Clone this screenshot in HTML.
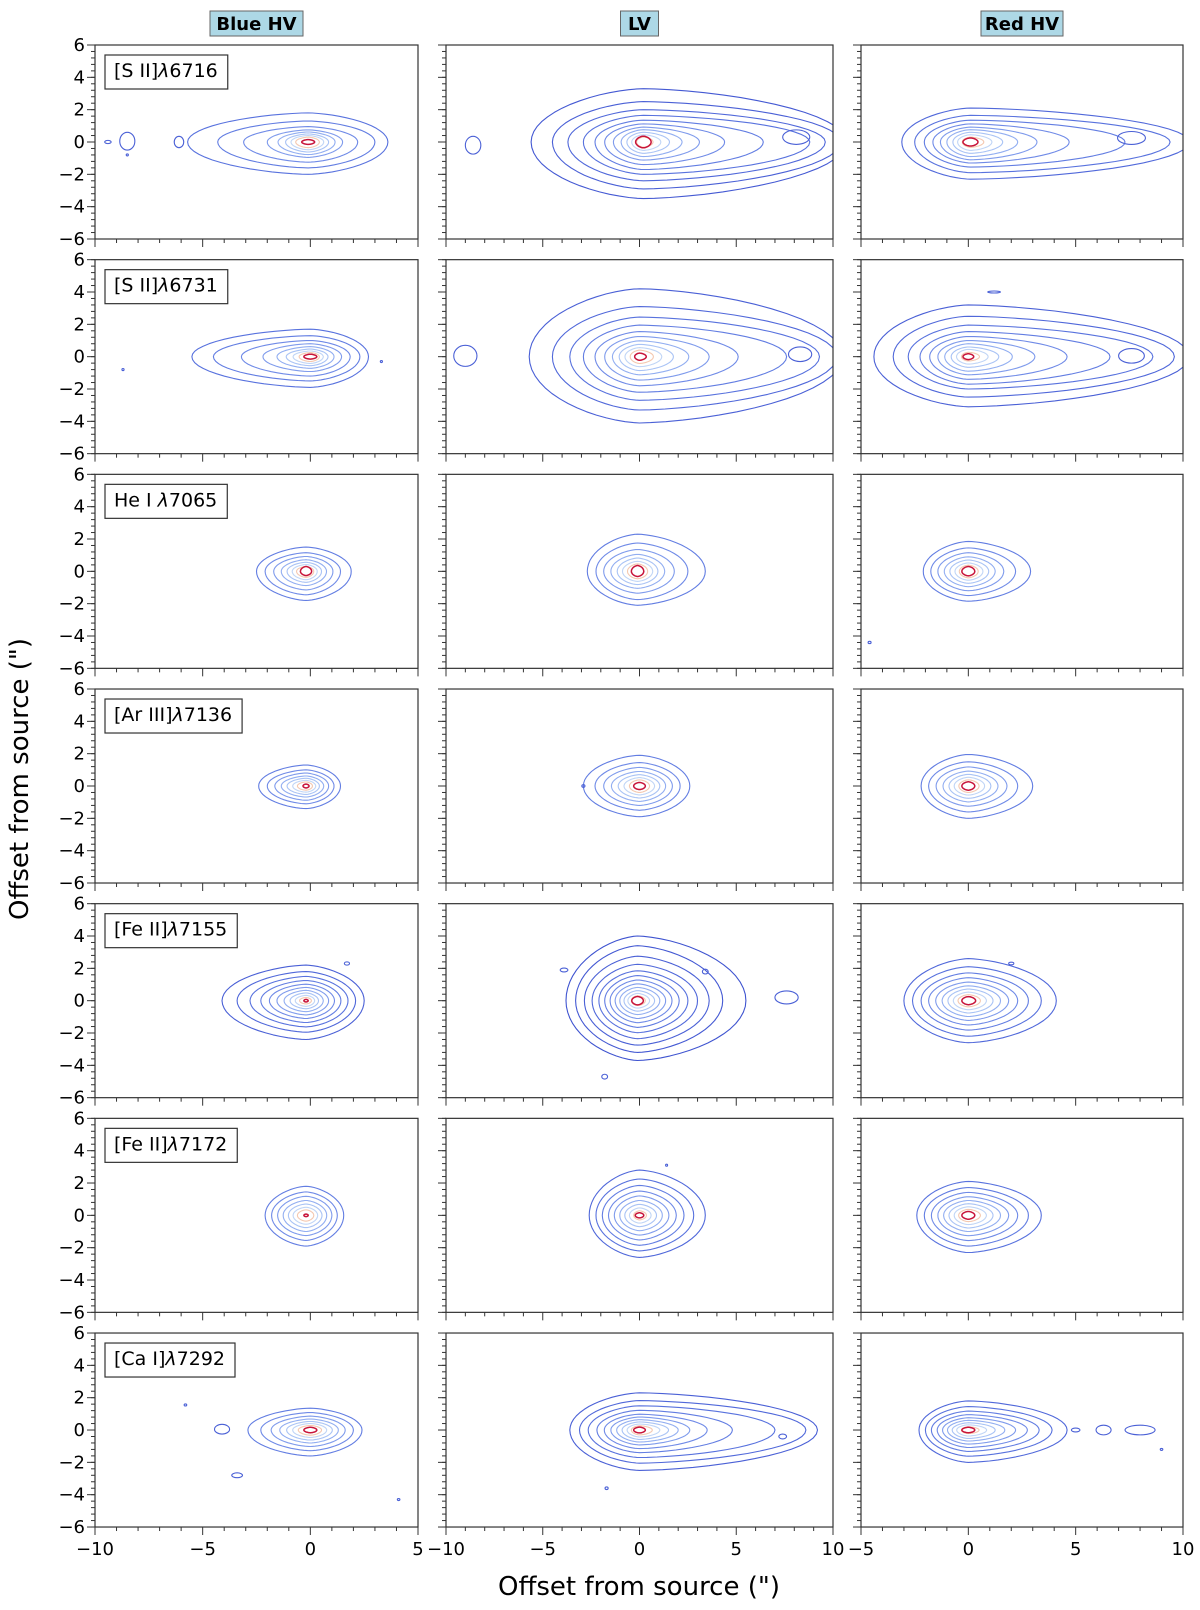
<!DOCTYPE html>
<html><head><meta charset="utf-8"><style>
html,body{margin:0;padding:0;background:#fff;}
#wrap{position:relative;width:1200px;height:1610px;overflow:hidden;font-family:"DejaVu Sans","Liberation Sans",sans-serif;}
</style></head><body>
<div id="wrap">
<svg id="fig" width="1200" height="1610" viewBox="0 0 1200 1610" xmlns="http://www.w3.org/2000/svg"></svg>
</div>
<script>
// ---- data ----
const columnTitles = ["Blue HV", "LV", "Red HV"];
const rowLabels = ["[S II]", "[S II]", "He I ", "[Ar III]", "[Fe II]", "[Fe II]", "[Ca I]"];
const rowWaves = ["6716", "6731", "7065", "7136", "7155", "7172", "7292"];
const xRanges = [[-10, 5], [-10, 10], [-5, 10]];
const xTicksByCol = [[-10, -5, 0, 5], [-10, -5, 0, 5, 10], [-5, 0, 5, 10]];
const yTicks = [-6, -4, -2, 0, 2, 4, 6];
const yRange = [-6, 6];
// centres [x,y] per panel (row-major)
const centers = [
 [-0.1,0],[0.2,0],[0.1,0],
 [0,0],[0,0],[0,0],
 [-0.2,0],[-0.1,0],[0,0],
 [-0.2,0],[0,0],[0,0],
 [-0.2,0],[-0.1,0],[0,0],
 [-0.2,0],[0,0],[0,0],
 [0,0],[0,0],[0,0]
];
// contour extents outer->inner: [left, right, up, down] relative to centre
const contourLevels = [
 [[-5.6,3.7,1.8,-2.0],[-4.2,3.1,1.3,-1.6],[-3.0,2.3,0.95,-1.25],[-1.9,1.6,0.75,-0.95],[-1.4,1.25,0.62,-0.78],[-1.05,0.95,0.5,-0.62],[-0.8,0.72,0.4,-0.48],[-0.58,0.52,0.3,-0.35],[-0.3,0.3,0.15,-0.15]],
 [[-5.8,10.5,3.3,-3.5],[-4.7,10.2,2.5,-2.9],[-3.9,9.4,2.0,-2.4],[-3.1,8.6,1.65,-2.0],[-2.5,6.2,1.35,-1.7],[-2.0,4.2,1.12,-1.4],[-1.55,2.9,0.92,-1.12],[-1.15,2.0,0.76,-0.9],[-0.85,1.35,0.6,-0.7],[-0.6,0.9,0.45,-0.52],[-0.35,0.5,0.3,-0.32],[-0.4,0.4,0.36,-0.36]],
 [[-3.2,10.2,2.1,-2.3],[-2.6,9.3,1.65,-1.9],[-2.15,7.2,1.35,-1.55],[-1.75,4.6,1.12,-1.3],[-1.4,3.1,0.92,-1.1],[-1.1,2.2,0.76,-0.9],[-0.82,1.5,0.6,-0.7],[-0.6,1.0,0.45,-0.52],[-0.38,0.62,0.3,-0.33],[-0.35,0.35,0.25,-0.25]],
 [[-5.5,2.7,1.7,-1.9],[-4.5,2.3,1.3,-1.5],[-3.2,1.85,1.0,-1.2],[-2.2,1.45,0.8,-0.92],[-1.55,1.1,0.62,-0.72],[-1.12,0.82,0.47,-0.56],[-0.8,0.6,0.35,-0.42],[-0.52,0.42,0.25,-0.3],[-0.3,0.3,0.15,-0.15]],
 [[-5.7,10.5,4.2,-4.1],[-4.5,10.2,3.1,-3.3],[-3.6,9.3,2.45,-2.7],[-2.9,7.6,1.95,-2.2],[-2.3,5.1,1.55,-1.8],[-1.8,3.6,1.25,-1.45],[-1.4,2.55,0.98,-1.12],[-1.05,1.75,0.76,-0.86],[-0.75,1.15,0.56,-0.62],[-0.48,0.72,0.4,-0.42],[-0.25,0.35,0.22,-0.22]],
 [[-4.4,10.3,3.2,-3.1],[-3.5,9.6,2.5,-2.5],[-2.8,8.6,1.95,-2.0],[-2.25,6.6,1.55,-1.7],[-1.8,4.6,1.25,-1.4],[-1.42,3.1,1.0,-1.12],[-1.1,2.05,0.8,-0.9],[-0.8,1.42,0.6,-0.66],[-0.55,0.92,0.45,-0.46],[-0.32,0.52,0.27,-0.27],[-0.25,0.25,0.18,-0.18]],
 [[-2.3,2.1,1.5,-1.8],[-1.9,1.6,1.15,-1.45],[-1.5,1.25,0.92,-1.15],[-1.15,0.95,0.72,-0.88],[-0.88,0.72,0.56,-0.68],[-0.64,0.52,0.42,-0.52],[-0.44,0.36,0.3,-0.37],[-0.26,0.26,0.3,-0.26]],
 [[-2.6,3.5,2.3,-2.1],[-2.15,2.6,1.75,-1.75],[-1.75,1.9,1.35,-1.35],[-1.38,1.4,1.05,-1.05],[-1.05,1.05,0.82,-0.82],[-0.78,0.78,0.62,-0.62],[-0.52,0.52,0.46,-0.46],[-0.32,0.32,0.36,-0.32]],
 [[-2.1,2.9,1.85,-1.85],[-1.75,2.2,1.45,-1.5],[-1.42,1.65,1.15,-1.2],[-1.12,1.25,0.9,-0.95],[-0.86,0.95,0.7,-0.74],[-0.62,0.68,0.52,-0.55],[-0.42,0.46,0.38,-0.4],[-0.3,0.3,0.3,-0.28]],
 [[-2.2,1.6,1.3,-1.4],[-1.8,1.3,1.0,-1.1],[-1.45,1.05,0.8,-0.88],[-1.15,0.82,0.62,-0.68],[-0.88,0.62,0.48,-0.52],[-0.62,0.45,0.35,-0.38],[-0.4,0.3,0.25,-0.26],[-0.14,0.14,0.12,-0.12]],
 [[-2.9,2.6,1.9,-1.9],[-2.3,2.1,1.45,-1.5],[-1.85,1.7,1.15,-1.2],[-1.45,1.35,0.9,-0.95],[-1.1,1.05,0.7,-0.74],[-0.8,0.78,0.52,-0.55],[-0.52,0.52,0.38,-0.4],[-0.3,0.3,0.22,-0.22]],
 [[-2.2,3.0,1.95,-2.0],[-1.85,2.3,1.5,-1.6],[-1.5,1.8,1.18,-1.25],[-1.18,1.38,0.92,-0.98],[-0.9,1.05,0.72,-0.76],[-0.66,0.76,0.54,-0.56],[-0.44,0.5,0.38,-0.4],[-0.3,0.3,0.26,-0.26]],
 [[-3.9,2.7,2.2,-2.4],[-3.2,2.3,1.8,-1.95],[-2.6,1.95,1.5,-1.62],[-2.1,1.62,1.25,-1.35],[-1.7,1.32,1.02,-1.1],[-1.35,1.05,0.82,-0.88],[-1.02,0.8,0.64,-0.68],[-0.74,0.58,0.48,-0.5],[-0.5,0.4,0.33,-0.35],[-0.3,0.25,0.2,-0.2],[-0.1,0.1,0.08,-0.08]],
 [[-3.7,5.6,4.0,-3.7],[-3.2,4.4,3.4,-3.2],[-2.75,3.7,2.75,-2.75],[-2.35,3.1,2.25,-2.35],[-2.0,2.6,1.85,-1.98],[-1.7,2.15,1.55,-1.65],[-1.42,1.78,1.28,-1.36],[-1.16,1.45,1.04,-1.1],[-0.92,1.15,0.82,-0.86],[-0.7,0.88,0.62,-0.65],[-0.5,0.62,0.45,-0.46],[-0.32,0.4,0.3,-0.3],[-0.3,0.3,0.26,-0.26]],
 [[-3.0,4.1,2.6,-2.6],[-2.6,3.4,2.1,-2.2],[-2.2,2.8,1.72,-1.82],[-1.85,2.3,1.42,-1.5],[-1.52,1.88,1.15,-1.22],[-1.22,1.5,0.92,-0.98],[-0.95,1.15,0.72,-0.76],[-0.7,0.84,0.53,-0.56],[-0.48,0.56,0.37,-0.38],[-0.3,0.34,0.25,-0.25]],
 [[-1.9,1.75,1.8,-1.9],[-1.6,1.45,1.45,-1.55],[-1.32,1.2,1.18,-1.25],[-1.06,0.96,0.92,-1.0],[-0.82,0.74,0.7,-0.76],[-0.6,0.54,0.5,-0.55],[-0.4,0.36,0.34,-0.36],[-0.1,0.1,0.08,-0.08]],
 [[-2.6,3.4,2.8,-2.6],[-2.25,2.8,2.25,-2.2],[-1.92,2.3,1.85,-1.85],[-1.6,1.9,1.5,-1.52],[-1.3,1.52,1.2,-1.22],[-1.02,1.18,0.92,-0.95],[-0.76,0.88,0.68,-0.7],[-0.52,0.6,0.46,-0.48],[-0.3,0.36,0.28,-0.28],[-0.22,0.22,0.16,-0.16]],
 [[-2.4,3.4,2.1,-2.3],[-2.05,2.8,1.72,-1.9],[-1.72,2.3,1.42,-1.56],[-1.42,1.88,1.15,-1.26],[-1.15,1.5,0.92,-1.0],[-0.9,1.15,0.72,-0.78],[-0.66,0.84,0.53,-0.57],[-0.45,0.56,0.37,-0.39],[-0.3,0.3,0.24,-0.24]],
 [[-2.9,2.4,1.35,-1.6],[-2.3,2.0,1.08,-1.28],[-1.82,1.62,0.86,-1.02],[-1.42,1.3,0.68,-0.8],[-1.1,1.02,0.53,-0.62],[-0.82,0.76,0.4,-0.46],[-0.56,0.52,0.28,-0.32],[-0.3,0.3,0.17,-0.17]],
 [[-3.6,9.2,2.3,-2.5],[-3.1,8.6,1.82,-2.05],[-2.65,7.0,1.5,-1.7],[-2.2,4.8,1.22,-1.4],[-1.82,3.5,0.98,-1.15],[-1.48,2.6,0.8,-0.92],[-1.18,2.0,0.64,-0.74],[-0.9,1.5,0.5,-0.58],[-0.64,1.05,0.37,-0.43],[-0.42,0.66,0.26,-0.3],[-0.3,0.3,0.18,-0.18]],
 [[-2.3,4.6,1.8,-2.0],[-2.0,3.9,1.45,-1.62],[-1.72,3.3,1.17,-1.32],[-1.45,2.75,0.95,-1.08],[-1.2,2.2,0.76,-0.87],[-0.97,1.7,0.6,-0.68],[-0.75,1.25,0.45,-0.52],[-0.54,0.85,0.32,-0.37],[-0.32,0.5,0.2,-0.22],[-0.3,0.3,0.17,-0.17]]
];
// isolated small contour islands per panel: [x, y, rx, ry]
const islands = [
 [[-9.4,0,0.15,0.1],[-8.5,0.05,0.35,0.55],[-6.1,0,0.22,0.35],[-8.5,-0.8,0.05,0.05]],
 [[-8.6,-0.2,0.4,0.55],[8.1,0.3,0.7,0.45]],
 [[7.6,0.25,0.65,0.4]],
 [[-8.7,-0.8,0.05,0.05],[3.3,-0.3,0.05,0.05]],
 [[-9.0,0.05,0.6,0.65],[8.3,0.15,0.6,0.45]],
 [[7.6,0.05,0.6,0.45],[1.2,4.0,0.3,0.06]],
 [], [], [[-4.6,-4.4,0.07,0.07]],
 [], [[-2.9,0,0.08,0.08]], [],
 [[1.7,2.3,0.12,0.1]],
 [[7.6,0.2,0.6,0.4],[-3.9,1.9,0.2,0.12],[-1.8,-4.7,0.15,0.15],[3.4,1.8,0.15,0.15]],
 [[2.0,2.3,0.12,0.08]],
 [], [[1.4,3.1,0.05,0.05]], [],
 [[-4.1,0.05,0.35,0.3],[-3.4,-2.8,0.25,0.15],[-5.8,1.55,0.06,0.06],[4.1,-4.3,0.06,0.06]],
 [[7.4,-0.4,0.2,0.15],[-1.7,-3.6,0.08,0.08]],
 [[5.0,0.0,0.2,0.12],[6.3,0.0,0.35,0.3],[8.0,0.0,0.7,0.3],[9.0,-1.2,0.06,0.06]]
];
// ---- layout ----
const colLeft=[95,446,861], colRight=[418,833,1183];
const rowTop0=45, rowPitch=214.67, panelH=194;
const palette=['#3f54d0','#4459d3','#4a60d6','#5068da','#5872de','#627de2','#6f8ae7','#7f9bec','#92aef1','#a9c3f5','#c0d5f6','#f4c8b0','#c8143a'];
const NS='http://www.w3.org/2000/svg';
const svg=document.getElementById('fig');
function mk(tag,attrs,parent){const e=document.createElementNS(NS,tag);for(const k in attrs)e.setAttribute(k,attrs[k]);(parent||svg).appendChild(e);return e;}
function xScale(c,v){const r=xRanges[c];return colLeft[c]+(v-r[0])*(colRight[c]-colLeft[c])/(r[1]-r[0]);}
function yScale(r,v){const top=rowTop0+r*rowPitch;return top+(yRange[1]-v)*panelH/(yRange[1]-yRange[0]);}
function shapePath(c,r,cx,cy,L,R,U,D){
  let d='';const n=64;
  for(let i=0;i<=n;i++){const t=i/n*2*Math.PI;const ct=Math.cos(t),st=Math.sin(t);
    const ex=Math.sign(ct)*Math.pow(Math.abs(ct),1.25), ey=st;
    const xv=cx+(ex>=0?R:L)*ex; const yv=cy+(ey>=0?U:D)*ey;
    d+=(i?'L':'M')+xScale(c,xv).toFixed(1)+','+yScale(r,yv).toFixed(1);}
  return d+'Z';
}
// column titles
columnTitles.forEach((t,c)=>{
  const cxp=(colLeft[c]+colRight[c])/2;
  const g=mk('g',{});
  
  
  const w=t.length*11+16;
  mk('rect',{x:cxp-w/2,y:11,width:w,height:25,fill:'#add8e6',stroke:'#666','stroke-width':1},g);
  const tx=mk('text',{x:cxp,y:30,'text-anchor':'middle','font-size':18,'font-weight':'bold',fill:'#000'},g);tx.textContent=t;
});
for(let r=0;r<7;r++){for(let c=0;c<3;c++){
  const idx=r*3+c, top=rowTop0+r*rowPitch, bot=top+panelH;
  const g=mk('g',{});
  
  
  const cid='clip'+idx;
  const cp=mk('clipPath',{id:cid},g);mk('rect',{x:colLeft[c],y:top,width:colRight[c]-colLeft[c],height:panelH},cp);
  const cg=mk('g',{'clip-path':'url(#'+cid+')'},g);
  
  
  const lv=contourLevels[idx], ctr=centers[idx];
  lv.forEach((e,i)=>{
    const pi=palette.length-lv.length+i;
    const col=i===lv.length-1?palette[palette.length-1]:(i===lv.length-2?palette[palette.length-2]:palette[Math.max(0,Math.min(palette.length-3,pi))]);
    const p=mk('path',{d:shapePath(c,r,ctr[0],ctr[1],-e[0],e[1],e[2],-e[3]),fill:'none',stroke:col,'stroke-width':(i===lv.length-1?1.5:1.1),'stroke-linejoin':'round'},cg);
    
    
  });
  islands[idx].forEach(b=>{
    const el=mk('ellipse',{cx:xScale(c,b[0]),cy:yScale(r,b[1]),rx:Math.max(1,b[2]*(colRight[c]-colLeft[c])/(xRanges[c][1]-xRanges[c][0])),ry:Math.max(1,b[3]*panelH/12),fill:'none',stroke:'#4a60d6','stroke-width':1.1},cg);
    
    
  });
  mk('rect',{x:colLeft[c],y:top,width:colRight[c]-colLeft[c],height:panelH,fill:'none',stroke:'#333','stroke-width':1.2},g);
  const xr=xRanges[c];
  for(let v=xr[0];v<=xr[1];v++){const X=xScale(c,v);const maj=(v%5===0);mk('line',{x1:X,x2:X,y1:bot,y2:bot+(maj?8:4),stroke:'#333','stroke-width':1},g);}
  for(let k=0;k<=30;k++){const v=-6+k*0.4;const Y=yScale(r,v);mk('line',{x1:colLeft[c],x2:colLeft[c]-4,y1:Y,y2:Y,stroke:'#333','stroke-width':1},g);}
  yTicks.forEach(v=>{const Y=yScale(r,v);mk('line',{x1:colLeft[c],x2:colLeft[c]-8,y1:Y,y2:Y,stroke:'#333','stroke-width':1},g);
    if(c===0){const t=mk('text',{x:colLeft[c]-10,y:Y+6,'text-anchor':'end','font-size':18,fill:'#000'},g);t.textContent=(v<0?'\u2212'+(-v):''+v);
      
      }
  });
  if(r===6){xTicksByCol[c].forEach(v=>{const t=mk('text',{x:xScale(c,v),y:1555,'text-anchor':'middle','font-size':18,fill:'#000'},g);t.textContent=(v<0?'\u2212'+(-v):''+v);
    
    });}
  if(c===0){
    const lg=mk('g',{},g);
    
    
    const t=mk('text',{x:colLeft[c]+19,y:top+32,'font-size':19,fill:'#000'},lg);
    const s1=mk('tspan',{},t);s1.textContent=rowLabels[r];
    const s2=mk('tspan',{'font-style':'italic'},t);s2.textContent='\u03bb';
    const s3=mk('tspan',{},t);s3.textContent=rowWaves[r];
    const bb=t.getBBox();
    mk('rect',{x:colLeft[c]+10,y:top+10,width:bb.width+19,height:34,fill:'#fff',stroke:'#333','stroke-width':1.2},lg);
    lg.appendChild(t);
  }
}}
const xt=mk('text',{x:639,y:1595,'text-anchor':'middle','font-size':26,fill:'#000'});xt.textContent='Offset from source (")';


const yt=mk('text',{x:0,y:0,'text-anchor':'middle','font-size':26,fill:'#000',transform:'translate(28,779) rotate(-90)'});yt.textContent='Offset from source (")';


</script>
</body></html>
